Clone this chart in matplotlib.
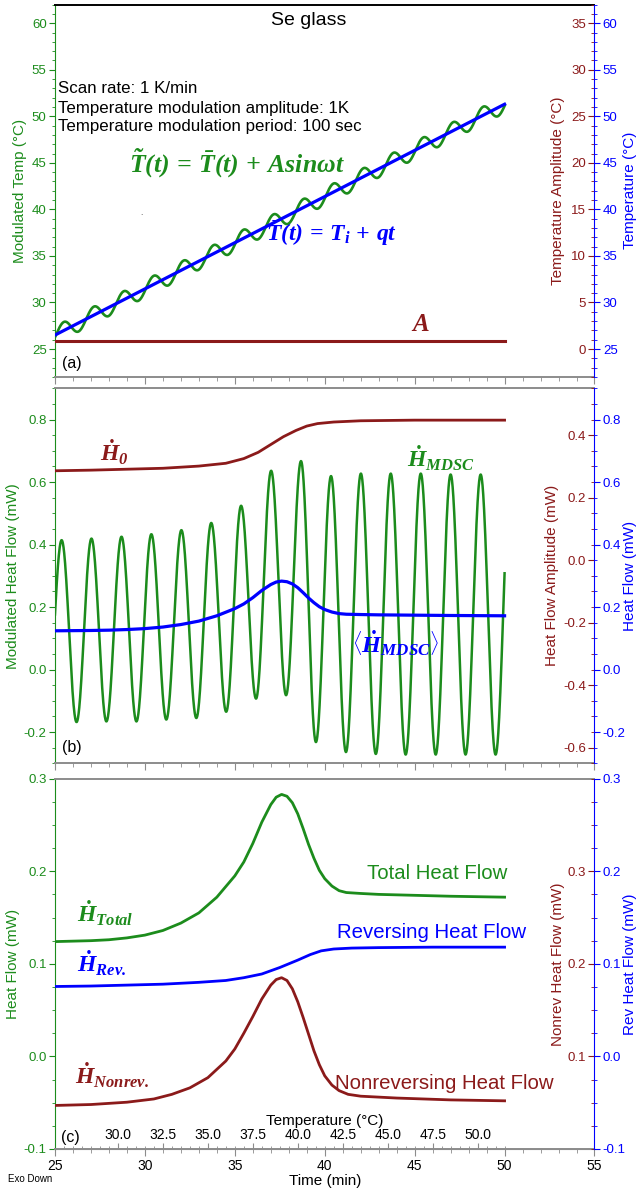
import matplotlib
matplotlib.use('Agg')
import matplotlib.pyplot as plt
import numpy as np
from matplotlib.ticker import MultipleLocator, FixedLocator, FormatStrFormatter

plt.rcParams['font.family'] = ['Liberation Sans', 'DejaVu Sans']
plt.rcParams['axes.unicode_minus'] = False
plt.rcParams['mathtext.fontset'] = 'custom'
plt.rcParams['mathtext.it'] = 'Liberation Serif:italic:bold'
plt.rcParams['mathtext.rm'] = 'Liberation Serif:italic:bold'
plt.rcParams['mathtext.bf'] = 'Liberation Serif:italic:bold'

GREEN = '#1c8c1c'
RED = '#8b1a1a'
BLUE = '#0000ff'
GRAY = '#8c8c8c'

# ---- panel (a): temperature ----
ramp_t = [25.0, 50.0]
ramp_v = [26.5, 51.3]
mt_peak_t = [25.56, 27.23, 28.89, 30.56, 32.22, 33.89, 35.55, 37.22, 38.89, 40.55,
             42.22, 43.88, 45.55, 47.21, 48.88, 50.54]
mt_peak_v = [27.94, 29.59, 31.24, 32.90, 34.54, 36.20, 37.85, 39.50, 41.16, 42.81,
             44.46, 46.11, 47.77, 49.41, 51.07, 52.70]
mt_trough_t = [24.58, 26.24, 27.91, 29.57, 31.24, 32.90, 34.57, 36.23, 37.90, 39.57,
               41.23, 42.90, 44.56, 46.23, 47.90, 49.56]
mt_trough_v = [25.20, 26.85, 28.51, 30.15, 31.81, 33.46, 35.11, 36.76, 38.42, 40.07,
               41.72, 43.38, 45.02, 46.68, 48.34, 49.98]
amp_t = [25.0, 50.0]
amp_v = [0.9, 0.9]

# ---- panel (b): modulated heat flow ----
hf_peak_t = [25.37, 27.03, 28.70, 30.36, 32.03, 33.69, 35.35, 37.02, 38.68, 40.35,
             42.01, 43.67, 45.34, 47.00, 48.67, 50.34]
hf_peak_v = [0.414, 0.419, 0.425, 0.433, 0.446, 0.469, 0.524, 0.636, 0.667, 0.619,
             0.627, 0.627, 0.627, 0.624, 0.624, 0.624]
hf_trough_t = [24.53, 26.20, 27.86, 29.53, 31.19, 32.86, 34.52, 36.18, 37.85, 39.51,
               41.18, 42.84, 44.50, 46.17, 47.83, 49.50]
hf_trough_v = [-0.170, -0.168, -0.166, -0.166, -0.160, -0.155, -0.135, -0.093, -0.082, -0.232,
               -0.264, -0.270, -0.272, -0.272, -0.272, -0.272]
h0_t = [25, 27, 29, 31, 33, 34.5, 35.5, 36.3, 37.0, 37.7, 38.4, 39.0, 39.6, 40.5, 42, 45, 50]
h0_v = [0.286, 0.288, 0.291, 0.294, 0.301, 0.310, 0.325, 0.345, 0.370, 0.395, 0.415,
        0.429, 0.437, 0.442, 0.446, 0.448, 0.448]

# ---- panel (c): total / reversing / nonreversing ----
total_t = [25, 26, 27, 28, 29, 30, 31, 32, 33, 34, 35, 35.5, 36, 36.5, 37, 37.3, 37.6,
           37.9, 38.2, 38.5, 38.8, 39.1, 39.4, 39.7, 40, 40.4, 40.8, 41.2, 42, 43, 45, 47, 50]
total_v = [0.124, 0.1245, 0.125, 0.126, 0.128, 0.131, 0.136, 0.144, 0.155, 0.172, 0.195,
           0.210, 0.230, 0.253, 0.272, 0.280, 0.283, 0.281, 0.274, 0.262, 0.246, 0.229,
           0.214, 0.201, 0.192, 0.184, 0.179, 0.177, 0.176, 0.175, 0.174, 0.173, 0.172]
rev_t = [25, 27, 29, 31, 33, 34.5, 35.5, 36.5, 37.5, 38.5, 39.2, 39.8, 40.5, 41.5, 43, 46, 50]
rev_v = [0.0755, 0.076, 0.077, 0.078, 0.080, 0.082, 0.085, 0.089, 0.096, 0.104, 0.110,
         0.114, 0.116, 0.117, 0.1175, 0.118, 0.118]
nonrev_t = [25, 27, 29, 30.5, 31.5, 32.5, 33.5, 34.5, 35, 35.5, 36, 36.5, 37, 37.3, 37.6,
            37.9, 38.2, 38.5, 38.8, 39.1, 39.4, 39.7, 40, 40.4, 40.8, 41.3, 42, 44, 47, 50]
nonrev_v = [0.047, 0.048, 0.0505, 0.054, 0.059, 0.066, 0.077, 0.095, 0.108, 0.125, 0.143,
            0.162, 0.177, 0.183, 0.185, 0.182, 0.173, 0.159, 0.142, 0.124, 0.106, 0.091,
            0.079, 0.069, 0.063, 0.059, 0.057, 0.055, 0.053, 0.052]
nonrev_ticks = [0.1, 0.2, 0.3]

temp_offset = 1.5
temp_ticks = [30.0, 32.5, 35.0, 37.5, 40.0, 42.5, 45.0, 47.5, 50.0]


def through_extremes(pt, pv, tt, tv, grid):
    t = np.array(pt + tt)
    v = np.array(pv + tv)
    o = np.argsort(t)
    t, v = t[o], v[o]
    i = np.clip(np.searchsorted(t, grid) - 1, 0, len(t) - 2)
    s = (grid - t[i]) / (t[i + 1] - t[i])
    return v[i] + (v[i + 1] - v[i]) * (1 - np.cos(np.pi * s)) / 2


grid = np.linspace(25, 50, 2001)
fig = plt.figure(figsize=(6.4, 11.91), dpi=100)


def panel(rect, top_color, lims, ticks, lab, labx):
    ax = fig.add_axes(rect)
    axr = ax.twinx()
    axb = ax.twinx()
    ax.set_xlim(25, 55)
    ax.xaxis.set_major_locator(MultipleLocator(5))
    ax.xaxis.set_minor_locator(MultipleLocator(1))
    ax.tick_params(axis='x', which='major', length=5, color=GRAY, labelsize=10, pad=2)
    ax.tick_params(axis='x', which='minor', length=3, color=GRAY)
    for s in ['top', 'bottom']:
        ax.spines[s].set_color(GRAY if s == 'bottom' else top_color)
        ax.spines[s].set_linewidth(1.4)
    ax.spines['left'].set_color(GREEN)
    ax.spines['right'].set_visible(False)
    for a in (axr, axb):
        for s in a.spines.values():
            s.set_visible(False)
    axb.spines['right'].set_visible(True)
    axb.spines['right'].set_color(BLUE)

    axr.yaxis.tick_left()
    axr.yaxis.set_label_position('left')
    axr.spines['left'].set_position(('axes', 1.0))

    for a, c, k in ((ax, GREEN, 0), (axr, RED, 1), (axb, BLUE, 2)):
        a.set_ylim(*lims[k])
        a.yaxis.set_major_locator(MultipleLocator(ticks[k][0]))
        a.yaxis.set_minor_locator(MultipleLocator(ticks[k][1]))
        a.tick_params(axis='y', which='both', colors=c, labelsize=9.5, pad=2)
        a.tick_params(axis='y', which='major', length=4)
        a.tick_params(axis='y', which='minor', length=2)
        a.set_ylabel(lab[k], color=c, fontsize=11, va='center')
        a.yaxis.set_label_coords(labx[k], 0.5)
    return ax, axr, axb


# ---------------- (a) ----------------
ax, axr, axb = panel([0.0859, 0.6835, 0.843, 0.3126], 'black',
                     [(22, 62), (-3, 37), (22, 62)], [(5, 1), (5, 1), (5, 1)],
                     ['Modulated Temp (°C)', 'Temperature Amplitude (°C)', 'Temperature (°C)'],
                     [-0.065, 0.932, 1.065])
ax.tick_params(axis='x', labelbottom=False)
ax.plot(grid, through_extremes(mt_peak_t, mt_peak_v, mt_trough_t, mt_trough_v, grid),
        color=GREEN, lw=1.9)
axb.plot(ramp_t, ramp_v, color=BLUE, lw=2.3)
axr.plot(amp_t, amp_v, color=RED, lw=2.2)

ax.text(39.1, 60.3, 'Se glass', ha='center', va='center', fontsize=14)
for yy, s in zip([53.0, 50.85, 48.9], ['Scan rate: 1 K/min',
                                        'Temperature modulation amplitude: 1K',
                                        'Temperature modulation period: 100 sec']):
    ax.text(25.15, yy, s, ha='left', va='center', fontsize=12.2)
ax.text(29.1, 44.9, r'$\tilde{T}(t)\,=\,\bar{T}(t)\,+\,A sin\omega t$', color=GREEN,
        ha='left', va='center', fontsize=18.5)
ax.text(29.8, 39.6, '.', color='#333333', fontsize=6, ha='center', va='center')
ax.text(36.75, 37.4, r'$\bar{T}(t)\,=\,T_i\,+\,qt$', color=BLUE, ha='left', va='center',
        fontsize=17)
ax.text(45.3, 27.7, r'$A$', color=RED, ha='center', va='center', fontsize=18)
ax.text(25.4, 23.4, '(a)', ha='left', va='center', fontsize=11.5)

# ---------------- (b) ----------------
ax, axr, axb = panel([0.0859, 0.3591, 0.843, 0.3149], GRAY,
                     [(-0.3, 0.9), (-0.65, 0.55), (-0.3, 0.9)],
                     [(0.2, 0.05), (0.2, 0.05), (0.2, 0.05)],
                     ['Modulated Heat Flow (mW)', 'Heat Flow Amplitude (mW)', 'Heat Flow (mW)'],
                     [-0.077, 0.921, 1.066])
ax.tick_params(axis='x', labelbottom=False)
for a in (ax, axr, axb):
    a.yaxis.set_major_formatter(FormatStrFormatter('%.1f'))
ax.plot(grid, through_extremes(hf_peak_t, hf_peak_v, hf_trough_t, hf_trough_v, grid),
        color=GREEN, lw=1.8)
axb.plot(total_t, total_v, color=BLUE, lw=2.3)
axr.plot(h0_t, h0_v, color=RED, lw=2.0)

ax.text(27.5, 0.695, r'$\dot{H}_{0}$', color=RED, ha='left', va='center', fontsize=17)
ax.text(44.6, 0.676, r'$\dot{H}_{MDSC}$', color=GREEN, ha='left', va='center', fontsize=17)
ax.text(41.5, 0.084, r'$\left\langle\dot{H}_{MDSC}\right\rangle$', color=BLUE,
        ha='left', va='center', fontsize=17.5)
ax.text(25.4, -0.248, '(b)', ha='left', va='center', fontsize=11.5)

# ---------------- (c) ----------------
ax, axr, axb = panel([0.0859, 0.0353, 0.843, 0.3109], GRAY,
                     [(-0.1, 0.3), (0.0, 0.4), (-0.1, 0.3)],
                     [(0.1, 0.025), (0.1, 0.025), (0.1, 0.025)],
                     ['Heat Flow (mW)', 'Nonrev Heat Flow (mW)', 'Rev Heat Flow (mW)'],
                     [-0.077, 0.932, 1.066])
for a in (ax, axr, axb):
    a.yaxis.set_major_formatter(FormatStrFormatter('%.1f'))
axr.yaxis.set_major_locator(FixedLocator(nonrev_ticks))
ax.set_xlabel('Time (min)', fontsize=11, labelpad=1)
ax.plot(total_t, total_v, color=GREEN, lw=2.0)
axb.plot(rev_t, rev_v, color=BLUE, lw=2.0)
axr.plot(nonrev_t, nonrev_v, color=RED, lw=2.0)

sec = ax.secondary_xaxis(0, functions=(lambda t: t + temp_offset, lambda T: T - temp_offset))
sec.set_alignment('top')
sec.spines['top'].set_color(GRAY)
sec.xaxis.set_major_locator(FixedLocator(temp_ticks))
sec.xaxis.set_minor_locator(FixedLocator(np.arange(27.0, 51.6, 0.5)))
sec.xaxis.set_major_formatter(FormatStrFormatter('%.1f'))
sec.tick_params(which='major', direction='out', length=4, color=GRAY, labelsize=10, pad=1)
sec.tick_params(which='minor', direction='out', length=2, color=GRAY)
sec.set_xlabel('Temperature (°C)', fontsize=11, labelpad=2)

ax.text(26.2, 0.155, r'$\dot{H}_{Total}$', color=GREEN, ha='left', va='center', fontsize=17)
ax.text(26.25, 0.101, r'$\dot{H}_{Rev.}$', color=BLUE, ha='left', va='center', fontsize=17)
ax.text(26.1, -0.02, r'$\dot{H}_{Nonrev.}$', color=RED, ha='left', va='center', fontsize=17)
ax.text(42.35, 0.198, 'Total Heat Flow', color=GREEN, ha='left', va='center', fontsize=14.7)
ax.text(40.7, 0.134, 'Reversing Heat Flow', color=BLUE, ha='left', va='center', fontsize=14.7)
ax.text(40.55, -0.0295, 'Nonreversing Heat Flow', color=RED, ha='left', va='center',
        fontsize=14.7)
ax.text(25.35, -0.0877, '(c)', ha='left', va='center', fontsize=11.5)

fig.text(8 / 640, 1 - 1179 / 1191, 'Exo Down', fontsize=7, ha='left', va='center')

fig.savefig('out.png', dpi=100)
